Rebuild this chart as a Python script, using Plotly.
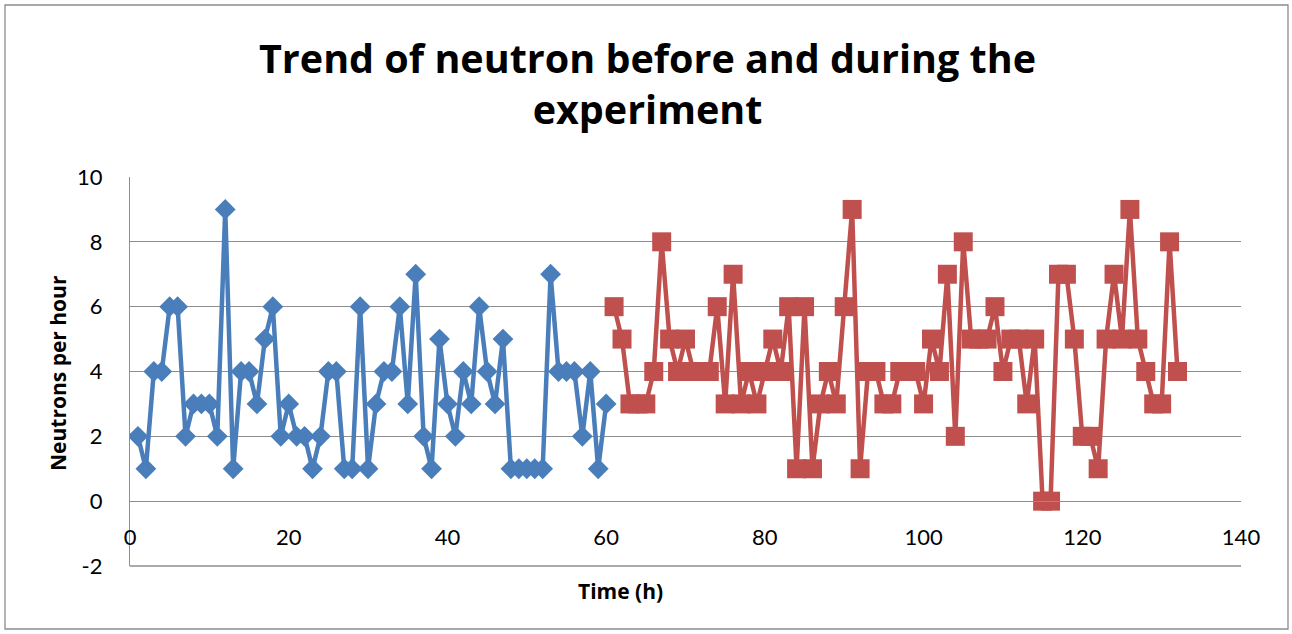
import plotly.graph_objects as go

# Data
before_hours = list(range(1, 61))
before_counts = [2, 1, 4, 4, 6, 6, 2, 3, 3, 3,
                 2, 9, 1, 4, 4, 3, 5, 6, 2, 3,
                 2, 2, 1, 2, 4, 4, 1, 1, 6, 1,
                 3, 4, 4, 6, 3, 7, 2, 1, 5, 3,
                 2, 4, 3, 6, 4, 3, 5, 1, 1, 1,
                 1, 1, 7, 4, 4, 4, 2, 4, 1, 3]
during_hours = list(range(61, 133))
during_counts = [6, 5, 3, 3, 3, 4, 8, 5, 4, 5,
                 4, 4, 4, 6, 3, 7, 3, 4, 3, 4,
                 5, 4, 6, 1, 6, 1, 3, 4, 3, 6,
                 9, 1, 4, 4, 3, 3, 4, 4, 4, 3,
                 5, 4, 7, 2, 8, 5, 5, 5, 6, 4,
                 5, 5, 3, 5, 0, 0, 7, 7, 5, 2,
                 2, 1, 5, 7, 5, 9, 5, 4, 3, 3,
                 8, 4]
x_ticks = [0, 20, 40, 60, 80, 100, 120, 140]
y_ticks = [-2, 0, 2, 4, 6, 8, 10]
y_tick_labels = ["-2", "0", "2", "4", "6", "8", "10"]

FONT = "Lato"
TFONT = "Open Sans"
GRID = "#8e8e8e"

fig = go.Figure()
fig.add_trace(go.Scatter(
    x=before_hours, y=before_counts, mode="lines+markers",
    line=dict(color="#4A7EBB", width=4.5),
    marker=dict(symbol="diamond", size=16, color="#4A7EBB"),
    name="Before", showlegend=False))
fig.add_trace(go.Scatter(
    x=during_hours, y=during_counts, mode="lines+markers",
    line=dict(color="#C0504D", width=4.5),
    marker=dict(symbol="square", size=19, color="#C0504D"),
    name="During", showlegend=False))

fig.update_layout(
    width=1292, height=634,
    margin=dict(l=130, r=51, t=177, b=68),
    paper_bgcolor="white", plot_bgcolor="white",
    font=dict(family=FONT, color="black"),
    xaxis=dict(range=[0, 140], tickvals=x_ticks, showgrid=False,
               zeroline=False, showline=True, linecolor=GRID, linewidth=1.3,
               anchor="free", position=2 / 12,
               ticks="", ticklabelstandoff=16,
               tickfont=dict(family=FONT, size=22, color="black")),
    yaxis=dict(range=[-2, 10], tickvals=y_ticks, ticktext=y_tick_labels,
               showgrid=True, gridcolor=GRID, gridwidth=1.3, zeroline=False,
               showline=True, linecolor=GRID, linewidth=1.3,
               ticks="", ticklabelstandoff=22,
               tickfont=dict(family=FONT, size=22, color="black")),
    annotations=[
        dict(text="<b>Trend of neutron before and during the<br>experiment</b>",
             xref="paper", yref="paper",
             x=(647 - 130) / 1111, y=(566 - 83) / 389,
             xanchor="center", yanchor="middle", showarrow=False,
             font=dict(family=TFONT, size=39.5, color="black")),
        dict(text="<b>Time (h)</b>", xref="paper", yref="paper",
             x=(620 - 130) / 1111, y=(566 - 591) / 389, xanchor="center", yanchor="middle",
             showarrow=False, font=dict(family=TFONT, size=21, color="black")),
        dict(text="<b>Neutrons per hour</b>", xref="paper", yref="paper",
             x=(58 - 130) / 1111, y=(566 - 373) / 389, xanchor="center", yanchor="middle",
             textangle=-90, showarrow=False,
             font=dict(family=TFONT, size=21, color="black")),
    ],
    shapes=[
        dict(type="rect", xref="paper", yref="paper",
             x0=(5 - 130) / 1111, x1=(1288 - 130) / 1111,
             y0=(566 - 629) / 389, y1=(566 - 5) / 389,
             line=dict(color="#8c8c8c", width=1.3), fillcolor="rgba(0,0,0,0)",
             layer="below"),
        dict(type="line", xref="paper", yref="paper",
             x0=0, x1=1, y0=0, y1=0,
             line=dict(color=GRID, width=1.3), layer="below"),
    ],
)

fig.write_html("out.html", config={"displayModeBar": False},
               post_script="document.body.style.margin='0';")
